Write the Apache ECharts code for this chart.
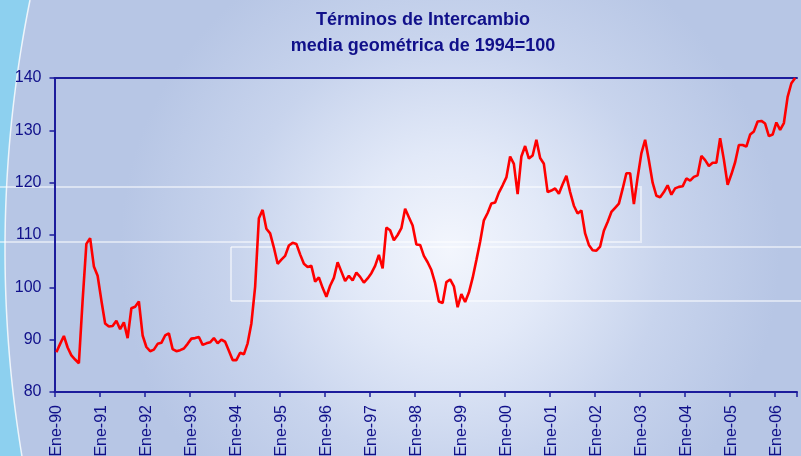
<!DOCTYPE html>
<html>
<head>
<meta charset="utf-8">
<script src="https://cdn.jsdelivr.net/npm/echarts@6/dist/echarts.min.js"></script>
<style>
html,body{margin:0;padding:0;background:#b8c7e6;}
#chart{width:801px;height:456px;}
</style>
</head>
<body>
<div id="chart"></div>
<script>
// ---- data ----
const titleLines = ['Términos de Intercambio', 'media geométrica de 1994=100'];
const monthNames = ['Ene','Feb','Mar','Abr','May','Jun','Jul','Ago','Sep','Oct','Nov','Dic'];
const years = ['90','91','92','93','94','95','96','97','98','99','00','01','02','03','04','05','06'];
const yTicks = [80, 90, 100, 110, 120, 130, 140];

const v1990 = [87.6, 89.2, 90.7, 88.5, 87.0, 86.2, 85.5, 97.5, 108.3, 109.4, 104.0, 102.2];
const v1991 = [97.5, 93.1, 92.5, 92.6, 93.6, 92.0, 93.3, 90.3, 96.0, 96.3, 97.3, 90.8];
const v1992 = [88.6, 87.8, 88.1, 89.2, 89.4, 90.8, 91.2, 88.2, 87.8, 88.0, 88.3, 89.2];
const v1993 = [90.2, 90.3, 90.5, 89.0, 89.3, 89.5, 90.3, 89.3, 90.0, 89.6, 87.9, 86.1];
const v1994 = [86.1, 87.5, 87.2, 89.3, 93.1, 100.1, 113.2, 114.8, 111.2, 110.3, 107.6, 104.5];
const v1995 = [105.3, 106.0, 108.0, 108.5, 108.3, 106.3, 104.5, 103.9, 104.1, 101.1, 101.9, 99.9];
const v1996 = [98.2, 100.3, 101.8, 104.8, 103.0, 101.2, 102.2, 101.3, 102.8, 102.0, 100.9, 101.7];
const v1997 = [102.7, 104.1, 106.2, 103.6, 111.4, 110.9, 109.0, 110.0, 111.3, 115.0, 113.4, 111.8];
const v1998 = [108.2, 108.1, 106.0, 104.8, 103.3, 100.8, 97.3, 97.0, 101.0, 101.5, 100.2, 96.2];
const v1999 = [98.7, 97.2, 99.0, 101.8, 105.2, 108.7, 112.8, 114.2, 116.0, 116.2, 118.1, 119.5];
const v2000 = [121.0, 125.0, 123.6, 117.8, 125.0, 127.0, 124.6, 125.2, 128.2, 124.7, 123.6, 118.2];
const v2001 = [118.5, 118.9, 117.9, 119.7, 121.3, 118.2, 115.6, 114.1, 114.7, 110.3, 108.1, 107.1];
const v2002 = [107.0, 107.8, 110.8, 112.5, 114.4, 115.2, 116.0, 118.8, 121.8, 121.8, 115.9, 121.0];
const v2003 = [125.6, 128.2, 124.3, 120.0, 117.5, 117.2, 118.2, 119.5, 117.7, 118.9, 119.2, 119.3];
const v2004 = [120.8, 120.4, 121.1, 121.4, 125.1, 124.3, 123.2, 123.8, 123.8, 128.5, 124.4, 119.6];
const v2005 = [121.6, 123.9, 127.2, 127.2, 126.9, 129.2, 129.8, 131.7, 131.8, 131.3, 128.9, 129.2];
const v2006 = [131.5, 130.1, 131.4, 136.4, 139.0, 140.0];

// ---- build ----
const yearValues = [v1990,v1991,v1992,v1993,v1994,v1995,v1996,v1997,v1998,v1999,v2000,v2001,v2002,v2003,v2004,v2005,v2006];
const categories = [];
const values = [];
yearValues.forEach((arr, yi) => {
  arr.forEach((v, mi) => {
    categories.push(monthNames[mi] + '-' + years[yi]);
    values.push(v);
  });
});

const NAVY = '#10108a';
const AXIS = '#1c1c9c';

// decorative left strip (arc)
const arcPts = [[0,0]];
for (let y = 0; y <= 456; y += 8) {
  const x = 1267 - Math.sqrt(1262*1262 - (y-250)*(y-250));
  arcPts.push([x, y]);
}
const arcLine = arcPts.slice(1);
arcPts.push([0,456]);

const deco = 'rgba(255,255,255,0.5)';
const chart = echarts.init(document.getElementById('chart'), null, {renderer:'canvas'});
chart.setOption({
  animation: false,
  backgroundColor: {
    type: 'radial', x: 450, y: 250, r: 330, global: true,
    colorStops: [
      {offset: 0, color: '#f3f6fd'},
      {offset: 0.3, color: '#e2e9f8'},
      {offset: 0.65, color: '#c8d4ed'},
      {offset: 1, color: '#b7c6e5'}
    ]
  },
  graphic: [
    {type:'polygon', z:-10, silent:true, shape:{points: arcPts}, style:{fill:'#8dd0ef'}},
    {type:'polyline', z:-9, silent:true, shape:{points: arcLine}, style:{stroke:'rgba(255,255,255,0.8)', lineWidth:1.5, fill:null}},
    {type:'polyline', z:-9, silent:true, shape:{points:[[0,187],[641,187],[641,242],[0,242]]}, style:{stroke:deco, lineWidth:2, fill:null}},
    {type:'line', z:-9, silent:true, shape:{x1:231,y1:247,x2:801,y2:247}, style:{stroke:deco, lineWidth:2}},
    {type:'line', z:-9, silent:true, shape:{x1:231,y1:301,x2:801,y2:301}, style:{stroke:deco, lineWidth:2}},
    {type:'line', z:-9, silent:true, shape:{x1:231,y1:247,x2:231,y2:301}, style:{stroke:deco, lineWidth:2}}
  ],
  title: {
    text: titleLines.join('\n'),
    left: 418, top: 2,
    textAlign: 'center',
    textStyle: {fontFamily:'Liberation Sans', fontSize:18, fontWeight:'bold', color:NAVY, lineHeight:26}
  },
  grid: {left: 54.5, right: 4, top: 78, bottom: 64, containLabel: false, outerBoundsMode: 'none'},
  xAxis: [{
    type: 'category',
    data: categories,
    boundaryGap: true,
    position: 'bottom',
    axisLine: {show: true, lineStyle: {color: AXIS, width: 2}},
    axisTick: {show: true, interval: 11, length: 5, lineStyle:{color: AXIS, width: 1.5}},
    axisLabel: {interval: 11, rotate: 90, margin: 13, color: NAVY, fontFamily:'Liberation Sans', fontSize: 16},
    splitLine: {show: false}
  },{
    type: 'category',
    data: categories,
    position: 'top',
    axisLine: {show: true, lineStyle: {color: AXIS, width: 2}},
    axisTick: {show: false},
    axisLabel: {show: false}
  }],
  yAxis: {
    type: 'value',
    min: yTicks[0], max: yTicks[yTicks.length-1], interval: 10,
    axisLine: {show: true, lineStyle: {color: AXIS, width: 2}},
    axisTick: {show: true, length: 5, lineStyle:{color: AXIS, width: 1.5}},
    axisLabel: {margin: 13, color: NAVY, fontFamily:'Liberation Sans', fontSize: 16},
    splitLine: {show: false}
  },
  series: [{
    type: 'line',
    data: values,
    symbol: 'none',
    lineStyle: {color: '#ff0000', width: 2.6},
    z: 5
  }]
});
</script>
</body>
</html>
